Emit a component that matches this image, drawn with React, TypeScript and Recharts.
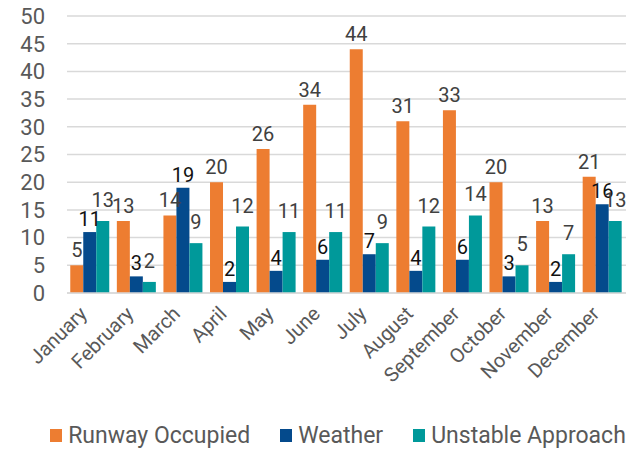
import { BarChart, Bar, XAxis, YAxis, CartesianGrid, Legend, LabelList } from "recharts"

const months = ["January", "February", "March", "April", "May", "June", "July", "August", "September", "October", "November", "December"]
const runwayOccupied = [5, 13, 14, 20, 26, 34, 44, 31, 33, 20, 13, 21]
const weather = [11, 3, 19, 2, 4, 6, 7, 4, 6, 3, 2, 16]
const unstableApproach = [13, 2, 9, 12, 11, 11, 9, 12, 14, 5, 7, 13]
const yTicks = [0, 5, 10, 15, 20, 25, 30, 35, 40, 45, 50]

const data = months.map((m, i) => ({
  month: m,
  "Runway Occupied": runwayOccupied[i],
  Weather: weather[i],
  "Unstable Approach": unstableApproach[i],
}))

const FONT = "Roboto, 'Open Sans', sans-serif"

const series = [
  { key: "Runway Occupied", color: "#ED7D31", label: "#404040", offset: 8 },
  { key: "Weather", color: "#044A8C", label: "#111111", offset: 6 },
  { key: "Unstable Approach", color: "#00999A", label: "#404040", offset: 14 },
]

function MonthTick(props: any) {
  const { x, y, payload } = props
  const tx = x - 7
  const ty = y + 9
  return (
    <text
      x={tx}
      y={ty}
      textAnchor="end"
      fill="#595959"
      fontSize={20}
      fontFamily={FONT}
      transform={`rotate(-45, ${tx}, ${ty})`}
      dominantBaseline="central"
    >
      {payload.value}
    </text>
  )
}

function LegendBox() {
  return (
    <div style={{ display: "flex", justifyContent: "center", gap: 30, fontFamily: FONT, fontSize: 23, color: "#595959", height: 36, alignItems: "center", paddingLeft: 50 }}>
      {series.map((s) => (
        <div key={s.key} style={{ display: "flex", alignItems: "center" }}>
          <span style={{ width: 12, height: 13, background: s.color, display: "inline-block", marginRight: 6 }} />
          {s.key}
        </div>
      ))}
    </div>
  )
}

export default function App() {
  return (
    <div style={{ position: "absolute", left: 0, top: 0, background: "#fff" }}>
      <BarChart
        width={635}
        height={453}
        data={data}
        margin={{ top: 16, right: 9, left: 0, bottom: 0 }}
        barCategoryGap="7%"
        barGap={0}
      >
        <CartesianGrid vertical={false} stroke="#D9D9D9" strokeWidth={1.5} />
        <XAxis
          dataKey="month"
          tick={<MonthTick />}
          tickLine={false}
          axisLine={{ stroke: "#D9D9D9", strokeWidth: 1.5 }}
          interval={0}
          height={124}
        />
        <YAxis
          domain={[0, 50]}
          ticks={yTicks}
          interval={0}
          width={67}
          tickLine={false}
          axisLine={false}
          tick={{ fill: "#595959", fontSize: 22, fontFamily: FONT }}
          tickMargin={16}
        />
        <Legend verticalAlign="bottom" height={36} content={<LegendBox />} />
        {series.map((s) => (
          <Bar key={s.key} dataKey={s.key} fill={s.color} isAnimationActive={false}>
            <LabelList dataKey={s.key} position="top" offset={s.offset} fill={s.label} fontSize={20} fontFamily={FONT} />
          </Bar>
        ))}
      </BarChart>
    </div>
  )
}
